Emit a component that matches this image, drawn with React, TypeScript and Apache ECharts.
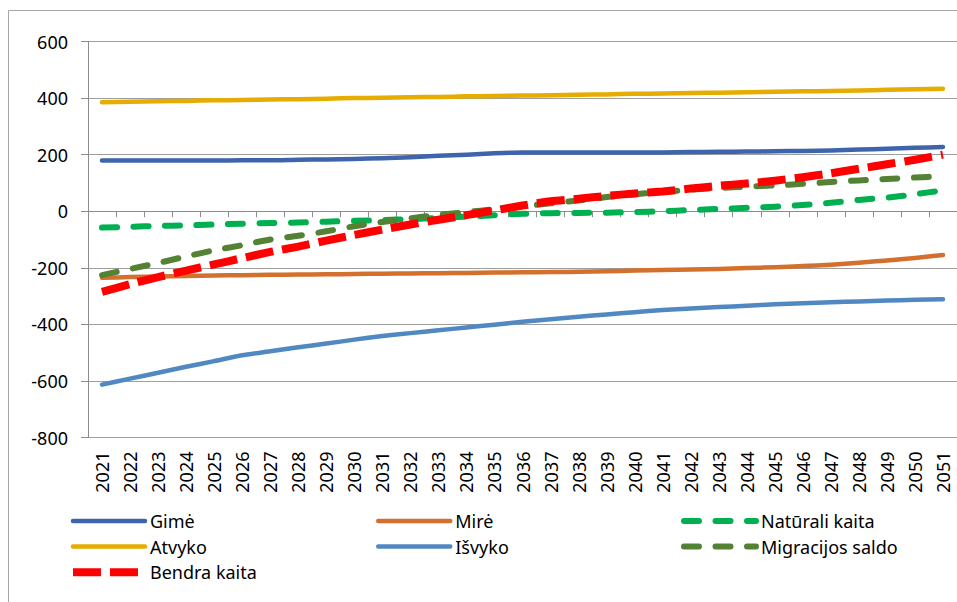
import React, { useEffect, useRef } from "react";
import * as echarts from "echarts";

const years = ["2021","2022","2023","2024","2025","2026","2027","2028","2029","2030","2031","2032","2033","2034","2035","2036","2037","2038","2039","2040","2041","2042","2043","2044","2045","2046","2047","2048","2049","2050","2051"];
const gime = [179,179,179,179,179,180,180,182,183,185,187,191,196,200,205,208,208,208,208,208,208,209,210,211,212,213,215,218,221,224,227];
const mire = [-235,-233,-231,-229,-227,-226,-225,-224,-223,-222,-221,-220,-219,-218,-217,-216,-215,-214,-212,-210,-208,-206,-204,-201,-198,-194,-189,-182,-174,-165,-155];
const naturali = [-58,-55,-52,-50,-47,-44,-42,-40,-37,-34,-31,-28,-24,-19,-14,-9,-7,-6,-5,-3,0,4,8,12,16,22,30,40,48,60,74];
const atvyko = [385,387,389,390,392,393,395,396,398,400,401,403,404,406,407,409,410,412,413,415,416,418,419,421,422,424,425,427,429,431,433];
const isvyko = [-613,-592,-571,-550,-530,-509,-495,-481,-468,-454,-441,-431,-421,-411,-401,-391,-382,-373,-365,-357,-349,-344,-339,-334,-329,-325,-322,-319,-316,-313,-311];
const migracijos = [-226,-204,-183,-160,-138,-120,-100,-87,-71,-53,-38,-25,-13,-3,7,17,28,38,50,60,68,76,82,87,91,97,103,109,114,119,124];
const bendra = [-285,-258,-233,-210,-188,-166,-144,-125,-104,-84,-65,-47,-30,-14,3,20,35,44,54,63,70,80,90,98,108,120,134,150,166,182,200];

const FONT = "Noto Sans";

type S = { name: string; data: number[]; color: string; width: number; dash: number[] | "solid"; cap: string };
const seriesDefs: S[] = [
  { name: "Gimė", data: gime, color: "#3E64AC", width: 4.5, dash: "solid", cap: "round" },
  { name: "Mirė", data: mire, color: "#D4702D", width: 4.5, dash: "solid", cap: "round" },
  { name: "Natūrali kaita", data: naturali, color: "#00B050", width: 6, dash: [15, 16.5], cap: "round" },
  { name: "Atvyko", data: atvyko, color: "#E6AC00", width: 4.5, dash: "solid", cap: "round" },
  { name: "Išvyko", data: isvyko, color: "#5089C2", width: 4.5, dash: "solid", cap: "round" },
  { name: "Migracijos saldo", data: migracijos, color: "#548235", width: 6, dash: [15, 16.5], cap: "round" },
  { name: "Bendra kaita", data: bendra, color: "#FF0000", width: 8, dash: [28, 9], cap: "butt" },
];

function legendItem(name: string) {
  const s = seriesDefs.find((d) => d.name === name)!;
  return {
    name,
    lineStyle: { width: s.width, type: s.dash, cap: s.cap, color: s.color },
    itemStyle: { color: "rgba(0,0,0,0)", borderWidth: 0, opacity: 0 },
  };
}

function makeLegend(left: number, names: string[]) {
  return {
    orient: "vertical",
    left,
    top: 512,
    padding: 0,
    itemWidth: 72,
    itemHeight: 14,
    itemGap: 7.6,
    data: names.map(legendItem),
    textStyle: { fontFamily: FONT, fontSize: 18, color: "#000" },
    selectedMode: false,
  };
}

export default function App() {
  const ref = useRef<HTMLDivElement>(null);
  useEffect(() => {
    const chart = echarts.init(ref.current!, null, { renderer: "svg" });
    chart.setOption({
      animation: false,
      backgroundColor: "#fff",
      textStyle: { fontFamily: FONT },
      graphic: [
        {
          type: "rect",
          z: -10,
          shape: { x: 8.5, y: 10.5, width: 1000, height: 1000 },
          style: { fill: "none", stroke: "#A6A6A6", lineWidth: 1 },
        },
      ],
      grid: { left: 88, top: 41.5, width: 869, height: 396, outerBoundsMode: "none", containLabel: false },
      legend: [
        makeLegend(69, ["Gimė", "Atvyko", "Bendra kaita"]),
        makeLegend(376, ["Mirė", "Išvyko"]),
        makeLegend(681, ["Natūrali kaita", "Migracijos saldo"]),
      ],
      xAxis: [
        {
          type: "category",
          data: years,
          position: "bottom",
          boundaryGap: true,
          axisLine: { show: false, onZero: false },
          axisTick: { show: false },
          axisLabel: { rotate: 90, margin: 14, fontFamily: FONT, fontSize: 18, color: "#000", interval: 0 },
        },
        {
          type: "category",
          data: years,
          position: "bottom",
          boundaryGap: true,
          axisLine: { show: true, onZero: true, lineStyle: { color: "#8C8C8C", width: 1 } },
          axisTick: { show: true, length: 6, interval: 0, lineStyle: { color: "#8C8C8C" } },
          axisLabel: { show: false },
        },
      ],
      yAxis: {
        type: "value",
        min: -800,
        max: 600,
        interval: 200,
        axisLine: { show: true, lineStyle: { color: "#8C8C8C", width: 1 } },
        axisTick: { show: true, length: 7, lineStyle: { color: "#8C8C8C" } },
        axisLabel: { margin: 20, fontFamily: FONT, fontSize: 18, color: "#000" },
        splitLine: { show: true, lineStyle: { color: "#9E9E9E", width: 1 } },
      },
      series: seriesDefs.map((s) => ({
        name: s.name,
        type: "line",
        xAxisIndex: 0,
        data: s.data,
        symbol: "none",
        showSymbol: false,
        smooth: 0.2,
        color: s.color,
        lineStyle: { color: s.color, width: s.width, type: s.dash, cap: s.cap, join: "round" },
      })),
    });
    return () => chart.dispose();
  }, []);
  return (
    <div
      ref={ref}
      style={{ position: "fixed", left: 0, top: 0, width: 957, height: 602 }}
    />
  );
}
